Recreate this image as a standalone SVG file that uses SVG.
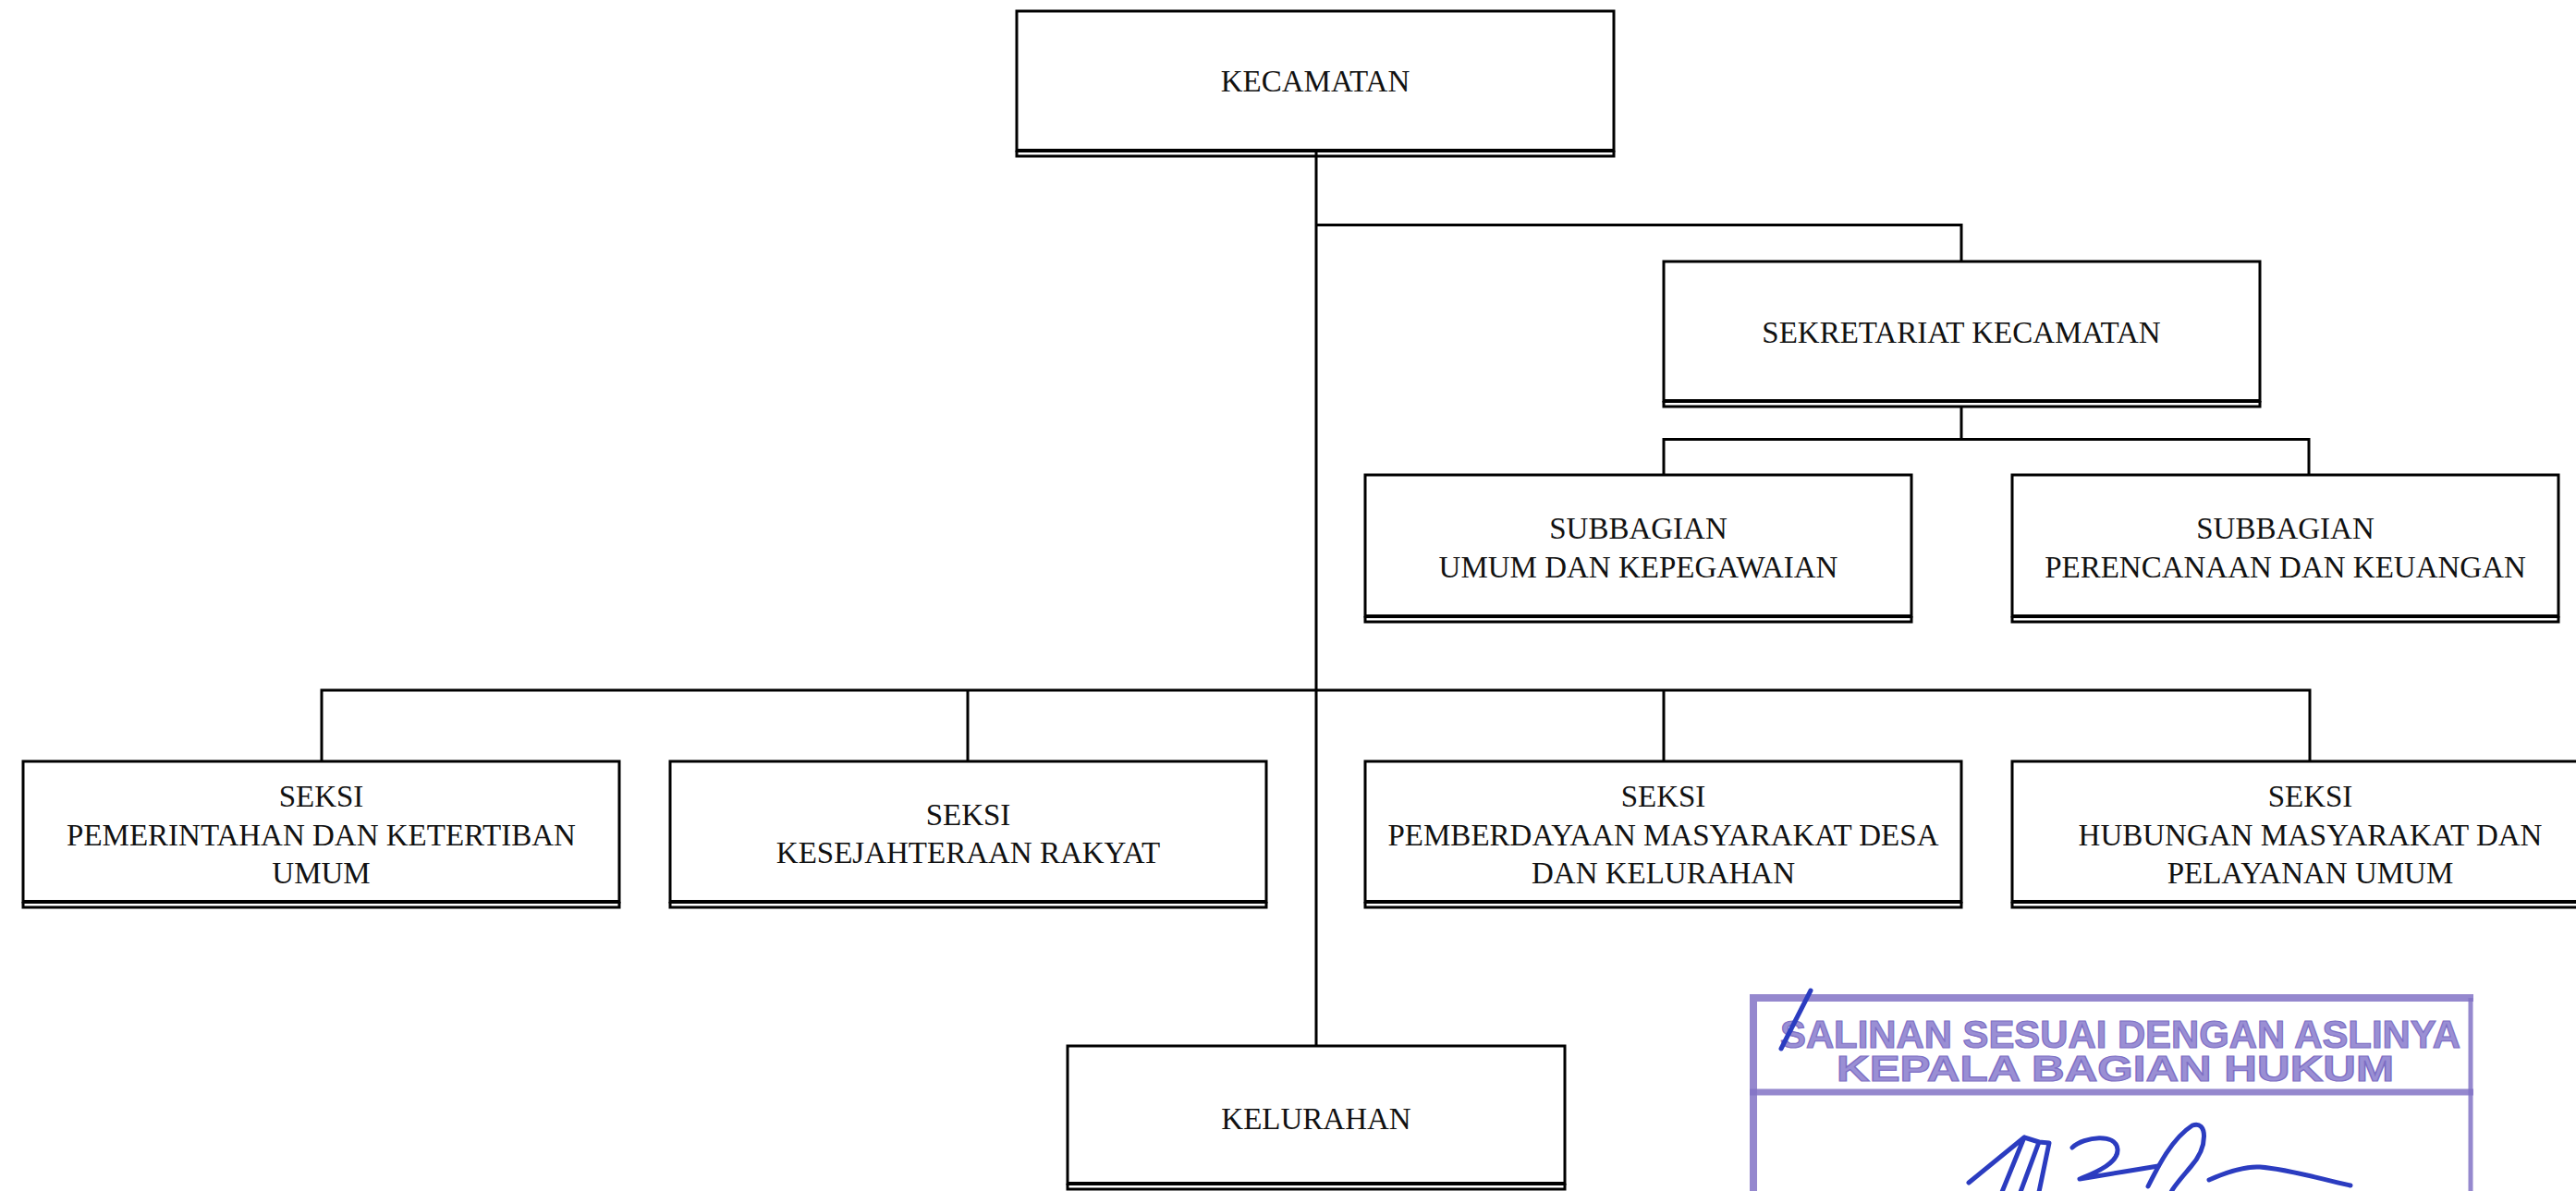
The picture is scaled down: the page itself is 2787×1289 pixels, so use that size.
<svg xmlns="http://www.w3.org/2000/svg" width="2787" height="1289" viewBox="0 0 2787 1289">
<defs>
<style>
.box{fill:#fff;stroke:#000;stroke-width:3}
.bl{stroke:#000;stroke-width:4;fill:none}
.bl2{stroke:#000;stroke-width:3;fill:none}
.lbl{font-family:"Liberation Serif","Times New Roman",serif;font-size:33px;fill:#111;text-anchor:middle}
.con{stroke:#000;stroke-width:3;fill:none}
.stf{stroke:#8273c6;fill:none;opacity:0.85}
.stt{font-family:"Liberation Sans",Arial,sans-serif;font-weight:bold;fill:#9a8fd4;stroke:#7d6ec4;stroke-width:1.2;text-anchor:start}
.sig{stroke:#2b3cc0;stroke-width:5;fill:none;stroke-linecap:round;stroke-linejoin:round}
</style>
</defs>
<rect width="2787" height="1289" fill="#fff"/>
<g id="connectors">
<path class="con" d="M1424,163 V1132"/>
<path class="con" d="M1424,243.5 H2122 V283"/>
<path class="con" d="M2122,439 V475.5 M1800,514 V475.5 H2498 V514"/>
<path class="con" d="M348,824 V747 H2499 V824 M1047,747 V824 M1800,747 V824"/>
</g>
<g id="kecamatan">
<rect class="box" x="1100" y="12" width="646" height="151"/>
<path class="bl" d="M1100,163 H1746"/>
<path class="bl2" d="M1098.5,169 H1747.5 M1100,163 V170.5 M1746,163 V170.5"/>
<text class="lbl" x="1423" y="99">KECAMATAN</text>
</g>
<g id="sekretariat">
<rect class="box" x="1800" y="283" width="645" height="151"/>
<path class="bl" d="M1800,434 H2445"/>
<path class="bl2" d="M1798.5,440 H2446.5 M1800,434 V441.5 M2445,434 V441.5"/>
<text class="lbl" x="2122" y="371">SEKRETARIAT KECAMATAN</text>
</g>
<g id="subbag-umum">
<rect class="box" x="1477" y="514" width="591" height="153"/>
<path class="bl" d="M1477,667 H2068"/>
<path class="bl2" d="M1475.5,673 H2069.5 M1477,667 V674.5 M2068,667 V674.5"/>
<text class="lbl" x="1772.5" y="582.5">SUBBAGIAN</text>
<text class="lbl" x="1772.5" y="625">UMUM DAN KEPEGAWAIAN</text>
</g>
<g id="subbag-perencanaan">
<rect class="box" x="2177" y="514" width="591" height="153"/>
<path class="bl" d="M2177,667 H2768"/>
<path class="bl2" d="M2175.5,673 H2769.5 M2177,667 V674.5 M2768,667 V674.5"/>
<text class="lbl" x="2472.5" y="582.5">SUBBAGIAN</text>
<text class="lbl" x="2472.5" y="625">PERENCANAAN DAN KEUANGAN</text>
</g>
<g id="seksi-pemerintahan">
<rect class="box" x="25" y="824" width="645" height="152"/>
<path class="bl" d="M25,976 H670"/>
<path class="bl2" d="M23.5,982 H671.5 M25,976 V983.5 M670,976 V983.5"/>
<text class="lbl" x="347.5" y="873">SEKSI</text>
<text class="lbl" x="347.5" y="915">PEMERINTAHAN DAN KETERTIBAN</text>
<text class="lbl" x="347.5" y="956">UMUM</text>
</g>
<g id="seksi-kesejahteraan">
<rect class="box" x="725" y="824" width="645" height="152"/>
<path class="bl" d="M725,976 H1370"/>
<path class="bl2" d="M723.5,982 H1371.5 M725,976 V983.5 M1370,976 V983.5"/>
<text class="lbl" x="1047.5" y="893">SEKSI</text>
<text class="lbl" x="1047.5" y="934">KESEJAHTERAAN RAKYAT</text>
</g>
<g id="seksi-pemberdayaan">
<rect class="box" x="1477" y="824" width="645" height="152"/>
<path class="bl" d="M1477,976 H2122"/>
<path class="bl2" d="M1475.5,982 H2123.5 M1477,976 V983.5 M2122,976 V983.5"/>
<text class="lbl" x="1799.5" y="873">SEKSI</text>
<text class="lbl" x="1799.5" y="915">PEMBERDAYAAN MASYARAKAT DESA</text>
<text class="lbl" x="1799.5" y="956">DAN KELURAHAN</text>
</g>
<g id="seksi-hubungan">
<rect class="box" x="2177" y="824" width="645" height="152"/>
<path class="bl" d="M2177,976 H2822"/>
<path class="bl2" d="M2175.5,982 H2823.5 M2177,976 V983.5"/>
<text class="lbl" x="2499.5" y="873">SEKSI</text>
<text class="lbl" x="2499.5" y="915">HUBUNGAN MASYARAKAT DAN</text>
<text class="lbl" x="2499.5" y="956">PELAYANAN UMUM</text>
</g>
<g id="kelurahan">
<rect class="box" x="1155" y="1132" width="538" height="149"/>
<path class="bl" d="M1155,1281 H1693"/>
<path class="bl2" d="M1153.5,1287 H1694.5 M1155,1281 V1288.5 M1693,1281 V1288.5"/>
<text class="lbl" x="1424" y="1222">KELURAHAN</text>
</g>
<g id="stamp">
<path class="stf" stroke-width="8" d="M1897,1289 V1080 H2676"/>
<path class="stf" stroke-width="5" d="M2673,1080 V1289"/>
<path class="stf" stroke-width="7" d="M1893,1182 H2676"/>
<text class="stt" x="1926" y="1134" font-size="43" textLength="736" lengthAdjust="spacingAndGlyphs">SALINAN SESUAI DENGAN ASLINYA</text>
<text class="stt" x="1987" y="1170" font-size="39" textLength="603" lengthAdjust="spacingAndGlyphs">KEPALA BAGIAN HUKUM</text>
<path class="sig" d="M1959,1072 L1927,1135"/>
<path class="sig" d="M2130,1280 L2190,1231 L2166,1290 M2190,1231 L2206,1236 L2186,1290 M2206,1236 L2217,1237 L2206,1290"/>
<path class="sig" d="M2242,1242 C2255,1230 2290,1226 2291,1244 C2292,1258 2270,1268 2250,1276 L2335,1262"/>
<path class="sig" d="M2324,1284 C2335,1262 2350,1232 2372,1218 C2388,1212 2390,1240 2370,1263 C2360,1275 2352,1284 2349,1290"/>
<path class="sig" d="M2390,1277 C2410,1268 2430,1262 2445,1263 C2480,1266 2510,1276 2543,1283"/>
</g>
</svg>
